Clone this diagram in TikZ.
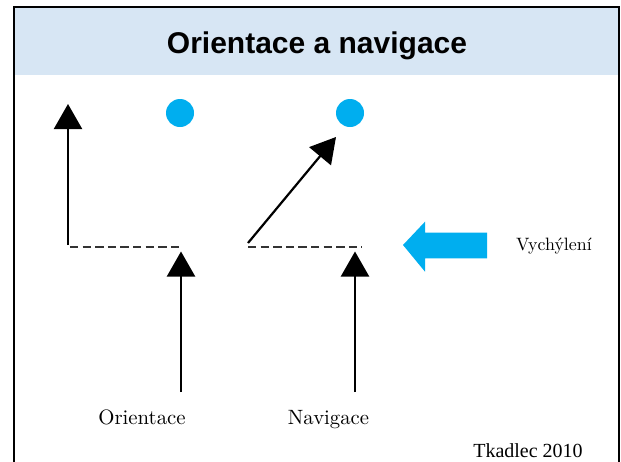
\documentclass[tikz,border=0pt]{standalone}
\usepackage{fontspec}
\usetikzlibrary{arrows.meta}
\newfontfamily\titlefont{Liberation Sans}
\newfontfamily\timesfont{Liberation Serif}
\newfontfamily\cmten{lmroman10-regular.otf}
\definecolor{headbg}{RGB}{215,230,244}
\definecolor{cyanblue}{RGB}{0,174,239}
\tikzset{
  frame/.style={line width=2pt, black},
  vec/.style={line width=2.2pt, black, -{Triangle[length=25pt,width=28pt]}},
  dashline/.style={line width=2.2pt, black!80, dash pattern=on 8.3pt off 4.3pt},
  spot/.style={circle, fill=cyanblue, inner sep=0pt, minimum size=28pt},
  lbl/.style={inner sep=0pt, anchor=base},
}
\begin{document}
\begin{tikzpicture}[x=1pt,y=-1pt]
\useasboundingbox (0,0) rectangle (621,461);
\fill[white] (0,0) rectangle (621,461);
% header band
\fill[headbg] (13.5,6.5) rectangle (619,75);
\draw[frame] (13.5,470) -- (13.5,6.5) -- (619,6.5) -- (619,470);
\node[lbl] (title) at (317,53.5) {\titlefont\bfseries\fontsize{30}{36}\selectfont Orientace a navigace};
% coordinates
\coordinate (l0) at (68,245);
\coordinate (l1) at (68,104);
\coordinate (ld0) at (70,247);
\coordinate (ld1) at (183,247);
\coordinate (d0) at (248,243);
\coordinate (d1) at (336,137);
\coordinate (rd0) at (248,247);
\coordinate (rd1) at (362,247);
\coordinate (o0) at (181,392);
\coordinate (o1) at (181,251.5);
\coordinate (n0) at (355,392);
\coordinate (n1) at (355,251.5);
% spots
\node[spot] (c1) at (180,113) {};
\node[spot] (c2) at (350,113) {};
% arrows
\draw[vec] (l0) -- (l1);
\draw[vec] (d0) -- (d1);
\draw[vec] (o0) -- (o1);
\draw[vec] (n0) -- (n1);
\draw[dashline] (ld0) -- (ld1);
\draw[dashline] (rd0) -- (rd1);
% big blue arrow
\fill[cyanblue] (403,245) -- (425,221.7) -- (425,232.7) -- (487,232.7) -- (487,258.3) -- (425,258.3) -- (425,271.7) -- cycle;
\node[lbl] (vych) at (554,250) {\cmten\fontsize{17.9}{22}\selectfont Vychýlení};
% labels
\node[lbl] (ori) at (142,424.5) {\cmten\fontsize{20.8}{24}\selectfont Orientace};
\node[lbl] (nav) at (328.5,424.5) {\cmten\fontsize{20.7}{24}\selectfont Navigace};
\node[lbl] (tk) at (528,457) {\timesfont\fontsize{20}{24}\selectfont Tkadlec 2010};
\end{tikzpicture}
\end{document}
